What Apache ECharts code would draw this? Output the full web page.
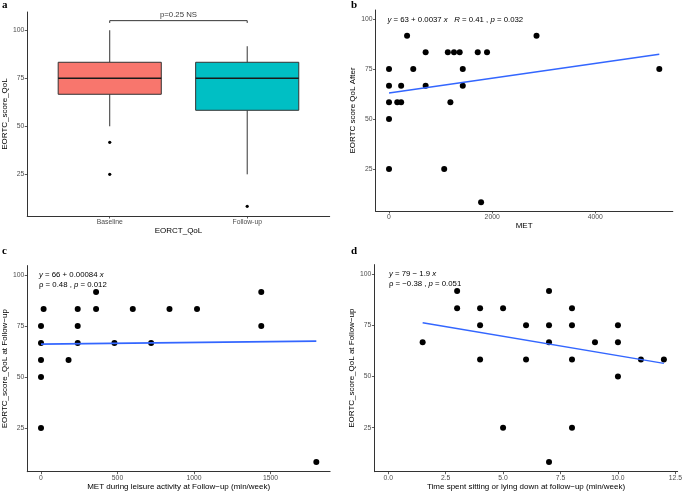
<!DOCTYPE html>
<html>
<head>
<meta charset="utf-8">
<script src="https://cdn.jsdelivr.net/npm/echarts@6/dist/echarts.min.js"></script>
<style>html,body{margin:0;padding:0;background:#fff}#c{width:685px;height:492px}</style>
</head>
<body>
<div id="c"></div>
<script>
// ---- Panel a: box plot ----
const boxCategories = ['Baseline', 'Follow-up'];
const boxColors = ['#F8766D', '#00BFC4'];
// [lower whisker, Q1, median, Q3, upper whisker]
const baselineStats = [50, 66.67, 75, 83.33, 100];
const followupStats = [25, 58.33, 75, 83.33, 91.67];
const baselineOutliers = [41.67, 25];
const followupOutliers = [8.33];
const bracketLabel = 'p=0.25 NS';
const bracketLevel = 105;

// ---- Panel b ----
const bMET = [0, 0, 0, 0, 0, 350, 470, 160, 235, 235, 710, 710, 1140, 1190, 1260, 1370, 1430, 1430, 1070, 1720, 1900, 1785, 2860, 5240];
const bQoL = [75, 66.67, 58.33, 50, 25, 91.67, 75, 58.33, 66.67, 58.33, 83.33, 66.67, 83.33, 58.33, 83.33, 83.33, 75, 66.67, 25, 83.33, 83.33, 8.33, 91.67, 75];
const bFitX = [0, 5240];
const bFitY = [63, 82.4];
const bTicksX = [0, 2000, 4000];

// ---- Panel c ----
const cMET = [0, 0, 0, 0, 0, 17, 180, 240, 240, 240, 360, 360, 480, 600, 720, 840, 1020, 1440, 1440, 1800];
const cQoL = [75, 66.67, 58.33, 50, 25, 83.33, 58.33, 83.33, 75, 66.67, 91.67, 83.33, 66.67, 83.33, 66.67, 83.33, 83.33, 91.67, 75, 8.33];
const cFitX = [0, 1800];
const cFitY = [66.1, 67.6];
const cTicksX = [0, 500, 1000, 1500];

// ---- Panel d ----
const dSit = [1.5, 3, 3, 4, 4, 4, 5, 5, 6, 6, 7, 7, 7, 7, 8, 8, 8, 8, 9, 10, 10, 10, 11, 12];
const dQoL = [66.67, 91.67, 83.33, 83.33, 75, 58.33, 83.33, 25, 75, 58.33, 91.67, 75, 66.67, 8.33, 83.33, 75, 58.33, 25, 66.67, 75, 66.67, 50, 58.33, 58.33];
const dFitX = [1.5, 12];
const dFitY = [76.2, 56.4];
const dTicksX = [0, 2.5, 5, 7.5, 10, 12.5];

const yTicks = [25, 50, 75, 100];

const FONT = '"Liberation Sans", Arial, sans-serif';
const axisCommon = {
  axisLine: { show: true, onZero: false, lineStyle: { color: '#333', width: 1 } },
  axisTick: { show: true, length: 2.5, lineStyle: { color: '#333', width: 0.8 } },
  splitLine: { show: false },
  nameLocation: 'middle',
  nameTextStyle: { color: '#000', fontSize: 8, fontFamily: FONT }
};
function xAx(idx, min, max, ticks, name, gap, fmt) {
  return Object.assign({}, axisCommon, {
    type: 'value', gridIndex: idx, min: min, max: max, name: name, nameGap: gap,
    axisTick: Object.assign({}, axisCommon.axisTick, { customValues: ticks }),
    axisLabel: { customValues: ticks, color: '#4D4D4D', fontSize: 6.8, fontFamily: FONT, margin: 3, formatter: fmt || (v => String(v)) }
  });
}
function yAx(idx, min, max, name, gap) {
  return Object.assign({}, axisCommon, {
    type: 'value', gridIndex: idx, min: min, max: max, name: name, nameGap: gap,
    axisTick: Object.assign({}, axisCommon.axisTick, { customValues: yTicks }),
    axisLabel: { customValues: yTicks, color: '#4D4D4D', fontSize: 6.8, fontFamily: FONT, margin: 3 }
  });
}
function pts(xs, ys) { return xs.map((x, i) => [x, ys[i]]); }

const boxData = [baselineStats, followupStats].map((s, i) => [i + 1].concat(s));
const outlierData = baselineOutliers.map(v => [1, v]).concat(followupOutliers.map(v => [2, v]));

const chart = echarts.init(document.getElementById('c'), null, { renderer: 'canvas' });
const rich = { i: { fontStyle: 'italic', fontSize: 7.8, fontFamily: FONT, fill: '#000' } };
const annStyle = (txt, x, y) => ({
  type: 'text', left: x, top: y,
  style: { text: txt, rich: rich, fontSize: 7.8, fontFamily: FONT, fill: '#000', lineHeight: 10 }
});
const panelLabel = (t, x, y) => ({
  type: 'text', left: x, top: y,
  style: { text: t, fontSize: 11, fontWeight: 'bold', fontFamily: '"Liberation Serif", "DejaVu Serif", serif', fill: '#000' }
});
const dot = { color: '#000', opacity: 1 };

chart.setOption({
  animation: false,
  grid: [
    { left: 25.3, top: 12, width: 304.4, height: 204 },
    { left: 375.5, top: 10, width: 297.3, height: 201 },
    { left: 26.5, top: 265.6, width: 303.6, height: 206.1 },
    { left: 374.4, top: 264.6, width: 305.6, height: 207.1 }
  ],
  xAxis: [
    xAx(0, 0.4, 2.6, [1, 2], 'EORCT_QoL', 10, v => boxCategories[Math.round(v) - 1]),
    xAx(1, -262, 5502, bTicksX, 'MET', 11),
    xAx(2, -90, 1890, cTicksX, 'MET during leisure activity at Follow\u2212up (min/week)', 9.5),
    xAx(3, -0.6, 12.6, dTicksX, 'Time spent sitting or lying down at follow\u2212up (min/week)', 9, v => v.toFixed(1))
  ],
  yAxis: [
    yAx(0, 3.3, 109.5, 'EORTC_score_QoL', 16),
    yAx(1, 4, 104.5, 'EORTC score QoL After', 17.5),
    yAx(2, 3.58, 104.6, 'EORTC_score_QoL at Follow\u2212up', 17.5),
    yAx(3, 3.55, 104.6, 'EORTC_score_QoL at Follow\u2212up', 18.4)
  ],
  series: [
    {
      type: 'custom', xAxisIndex: 0, yAxisIndex: 0, data: boxData,
      encode: { x: 0, y: [1, 2, 3, 4, 5] },
      renderItem: function (params, api) {
        const x = api.value(0), lo = api.value(1), q1 = api.value(2), med = api.value(3), q3 = api.value(4), hi = api.value(5);
        const hw = 0.375;
        const tl = api.coord([x - hw, q3]), br = api.coord([x + hw, q1]);
        const pHi = api.coord([x, hi]), pLo = api.coord([x, lo]);
        const p3 = api.coord([x, q3]), p1 = api.coord([x, q1]);
        const mL = api.coord([x - hw, med]), mR = api.coord([x + hw, med]);
        const ls = { stroke: '#333', lineWidth: 1 };
        return {
          type: 'group', children: [
            { type: 'line', shape: { x1: pHi[0], y1: pHi[1], x2: p3[0], y2: p3[1] }, style: ls },
            { type: 'line', shape: { x1: p1[0], y1: p1[1], x2: pLo[0], y2: pLo[1] }, style: ls },
            { type: 'rect', shape: { x: tl[0], y: tl[1], width: br[0] - tl[0], height: br[1] - tl[1] }, style: { fill: boxColors[params.dataIndex], stroke: '#333', lineWidth: 1 } },
            { type: 'line', shape: { x1: mL[0], y1: mL[1], x2: mR[0], y2: mR[1] }, style: { stroke: '#1a1a1a', lineWidth: 1.6 } }
          ]
        };
      }
    },
    { type: 'scatter', xAxisIndex: 0, yAxisIndex: 0, data: outlierData, symbolSize: 3.2, itemStyle: dot },
    {
      type: 'line', xAxisIndex: 0, yAxisIndex: 0, symbol: 'none',
      data: [[1, bracketLevel - 1.2], [1, bracketLevel], [2, bracketLevel], [2, bracketLevel - 1.2]],
      lineStyle: { color: '#000', width: 0.8 }
    },
    {
      type: 'scatter', xAxisIndex: 0, yAxisIndex: 0, data: [[1.5, bracketLevel]], symbolSize: 0,
      label: { show: true, position: 'top', distance: 2, formatter: bracketLabel, fontSize: 7.8, fontFamily: FONT, color: '#000' }
    },
    { type: 'scatter', xAxisIndex: 1, yAxisIndex: 1, data: pts(bMET, bQoL), symbolSize: 6, itemStyle: dot },
    { type: 'line', xAxisIndex: 1, yAxisIndex: 1, data: pts(bFitX, bFitY), symbol: 'none', lineStyle: { color: '#3366FF', width: 1.5 } },
    { type: 'scatter', xAxisIndex: 2, yAxisIndex: 2, data: pts(cMET, cQoL), symbolSize: 6, itemStyle: dot },
    { type: 'line', xAxisIndex: 2, yAxisIndex: 2, data: pts(cFitX, cFitY), symbol: 'none', lineStyle: { color: '#3366FF', width: 1.6 } },
    { type: 'scatter', xAxisIndex: 3, yAxisIndex: 3, data: pts(dSit, dQoL), symbolSize: 6, itemStyle: dot },
    { type: 'line', xAxisIndex: 3, yAxisIndex: 3, data: pts(dFitX, dFitY), symbol: 'none', lineStyle: { color: '#3366FF', width: 1.5 } }
  ],
  graphic: [
    panelLabel('a', 2, 0),
    panelLabel('b', 351, 0),
    panelLabel('c', 2, 246),
    panelLabel('d', 351, 246),
    annStyle('{i|y} = 63 + 0.0037 {i|x}   {i|R} = 0.41 , {i|p} = 0.032', 387.5, 15),
    annStyle('{i|y} = 66 + 0.00084 {i|x}\n\u03c1 = 0.48 , {i|p} = 0.012', 39, 270),
    annStyle('{i|y} = 79 \u2212 1.9 {i|x}\n\u03c1 = \u22120.38 , {i|p} = 0.051', 389, 269)
  ]
});
</script>
</body>
</html>
